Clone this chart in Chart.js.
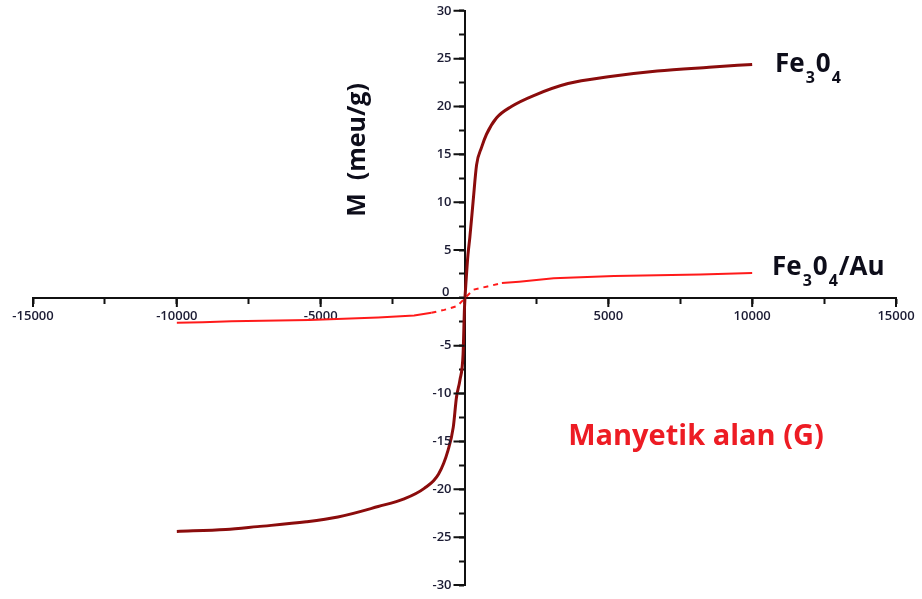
<!DOCTYPE html>
<html>
<head>
<meta charset="utf-8">
<script src="https://cdn.jsdelivr.net/npm/chart.js@4.4.1/dist/chart.umd.min.js"></script>
<style>
  html, body { margin: 0; padding: 0; background: #fff; }
  #wrap { width: 922px; height: 599px; position: relative; }
</style>
</head>
<body>
<div id="wrap"><canvas id="chart"></canvas></div>
<script>
// Fe3O4 magnetisation curve (field in G, M in emu/g)
const fe3o4Field = [-10000, -8300, -7200, -5500, -4400, -3000, -2100, -1400, -900, -570, -390, -280, -160, -50, 0,
                    60, 120, 185, 300, 420, 590, 765, 1110, 1630, 2450, 3600, 5000, 6700, 8500, 10000];
const fe3o4M = [-24.4, -24.2, -23.9, -23.4, -22.9, -21.8, -21.0, -19.9, -18.4, -15.9, -13.5, -10.4, -8.6, -5.9, -1.0,
                2.0, 4.5, 6.3, 10.1, 13.9, 15.7, 17.1, 18.8, 20.0, 21.2, 22.4, 23.1, 23.7, 24.1, 24.4];

// Fe3O4/Au curve
const fe3o4AuField = [-10000, -9100, -8100, -5400, -3000, -1750, -1150, -700, -250, 300, 800, 1300, 1900, 3100, 5200, 8200, 10000];
const fe3o4AuM = [-2.6, -2.55, -2.45, -2.3, -2.05, -1.85, -1.55, -1.25, -0.85, 0.85, 1.2, 1.55, 1.7, 2.05, 2.3, 2.45, 2.6];

// labelled ticks
const xTickLabels = [-15000, -10000, -5000, 5000, 10000, 15000];
const yTickLabels = [-30, -25, -20, -15, -10, -5, 0, 5, 10, 15, 20, 25, 30];

const toPoints = (xs, ys) => xs.map((v, i) => ({ x: v, y: ys[i] }));

const axisColor = '#111';
const labelColor = '#1b1b33';
const tickFont = { family: 'Open Sans', size: 13, weight: '600' };

// longer major tick marks, y tick labels and the text annotations
const overlay = {
  id: 'overlay',
  afterDraw(chart) {
    const { ctx, scales: { x, y } } = chart;
    const x0 = x.getPixelForValue(0);
    const y0 = y.getPixelForValue(0);
    ctx.save();
    ctx.strokeStyle = axisColor;
    ctx.lineWidth = 2;
    ctx.beginPath();
    xTickLabels.forEach(v => {
      const px = x.getPixelForValue(v);
      ctx.moveTo(px, y0); ctx.lineTo(px, y0 + 9);
    });
    yTickLabels.forEach(v => {
      const py = y.getPixelForValue(v);
      ctx.moveTo(x0, py); ctx.lineTo(x0 - 11, py);
    });
    ctx.stroke();

    // y tick labels (chart.js puts them flush against a centred axis)
    ctx.fillStyle = labelColor;
    ctx.font = '600 13px "Open Sans"';
    ctx.textAlign = 'right';
    ctx.textBaseline = 'middle';
    yTickLabels.forEach(v => {
      const py = y.getPixelForValue(v);
      if (v === 0) ctx.fillText('0', x0 - 15, py - 6);
      else ctx.fillText(String(v), x0 - 13, py);
    });

    // y title
    ctx.fillStyle = '#0d0d1a';
    ctx.font = 'bold 25px "Open Sans"';
    ctx.textAlign = 'center';
    ctx.translate(358, 150);
    ctx.rotate(-Math.PI / 2);
    ctx.fillText('M  (meu/g)', 0, 0);
    ctx.setTransform(1, 0, 0, 1, 0, 0);

    // x title
    ctx.fillStyle = '#ed1c24';
    ctx.font = 'bold 29px "Open Sans"';
    ctx.fillText('Manyetik alan (G)', 696, 437);

    // series labels with subscripts
    const drawFormula = (parts, left, base) => {
      ctx.textAlign = 'left';
      ctx.textBaseline = 'alphabetic';
      ctx.fillStyle = '#0d0d1a';
      let cx = left;
      parts.forEach(([t, sub]) => {
        ctx.font = sub ? 'bold 16px "Open Sans"' : 'bold 26px "Open Sans"';
        ctx.fillText(t, cx, sub ? base + 11 : base);
        cx += ctx.measureText(t).width + 1;
      });
    };
    drawFormula([['Fe', 0], ['3', 1], ['0', 0], ['4', 1]], 775, 72);
    drawFormula([['Fe', 0], ['3', 1], ['0', 0], ['4', 1], ['/Au', 0]], 772, 275);
    ctx.restore();
  }
};

new Chart(document.getElementById('chart'), {
  type: 'scatter',
  data: {
    datasets: [
      {
        label: 'Fe3O4',
        data: toPoints(fe3o4Field, fe3o4M),
        showLine: true,
        borderColor: '#8b0c0c',
        borderWidth: 3,
        pointRadius: 0,
        cubicInterpolationMode: 'monotone',
        order: 0
      },
      {
        label: 'Fe3O4/Au',
        data: toPoints(fe3o4AuField, fe3o4AuM),
        showLine: true,
        borderColor: '#ff1a1a',
        borderWidth: 2,
        pointRadius: 0,
        order: 1,
        segment: {
          borderDash: ctx => (Math.abs(ctx.p0.parsed.x) <= 1200 && Math.abs(ctx.p1.parsed.x) <= 1300) ? [5, 5] : undefined
        }
      }
    ]
  },
  options: {
    responsive: true,
    maintainAspectRatio: false,
    animation: false,
    layout: { padding: { left: 33, right: 26, top: 9, bottom: 14 } },
    plugins: { legend: { display: false }, tooltip: { enabled: false } },
    scales: {
      x: {
        type: 'linear',
        min: -15000, max: 15000,
        position: { y: 0 },
        border: { display: true, color: axisColor, width: 2 },
        grid: { drawOnChartArea: false, drawTicks: true, tickLength: 5, tickColor: axisColor, tickWidth: 2 },
        ticks: {
          stepSize: 2500, autoSkip: false, maxRotation: 0, padding: 6,
          color: labelColor, font: tickFont,
          callback: v => xTickLabels.includes(v) ? String(v) : ''
        }
      },
      y: {
        type: 'linear',
        min: -30, max: 30,
        position: { x: 0 },
        border: { display: true, color: axisColor, width: 2 },
        grid: { drawOnChartArea: false, drawTicks: true, tickLength: 5, tickColor: axisColor, tickWidth: 2 },
        ticks: {
          stepSize: 2.5, autoSkip: false,
          color: 'rgba(0,0,0,0)', font: tickFont,
          callback: v => ''
        }
      }
    }
  },
  plugins: [overlay]
});
</script>
</body>
</html>
